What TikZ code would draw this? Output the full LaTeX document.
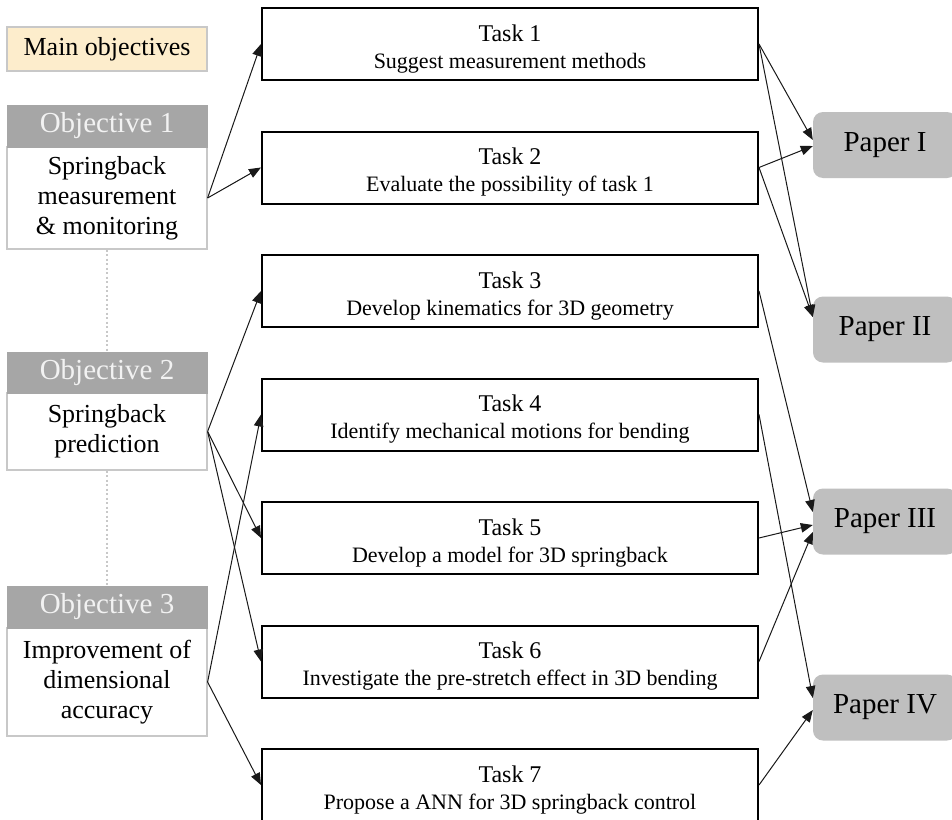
\documentclass[tikz,border=0pt]{standalone}
\usepackage{fontspec}
\setmainfont{Liberation Serif}
\usetikzlibrary{arrows.meta}

\definecolor{cream}{RGB}{253,237,204}
\definecolor{framegray}{RGB}{200,200,200}
\definecolor{headgray}{RGB}{166,166,166}
\definecolor{papergray}{RGB}{191,191,191}

\tikzset{
  mainbox/.style={draw=framegray, line width=1.2pt, fill=cream, minimum width=200pt,
    minimum height=44pt, inner sep=0pt, font=\fontsize{26}{30}\selectfont},
  objhead/.style={fill=headgray, draw=headgray, minimum width=200pt, inner sep=0pt,
    text=white!95!black, font=\fontsize{29}{32}\selectfont},
  objbody/.style={draw=framegray, line width=1.2pt, fill=white, minimum width=200pt,
    inner sep=0pt, align=center, font=\fontsize{26}{30}\selectfont},
  taskbox/.style={draw=black, line width=2pt, fill=white, minimum width=496pt,
    minimum height=72pt, inner sep=0pt},
  tasktext/.style={align=center, inner sep=0pt, font=\fontsize{22}{27}\selectfont},
  paperbox/.style={fill=papergray, rounded corners=10pt, minimum width=144pt,
    minimum height=66pt, inner sep=0pt, font=\fontsize{29}{32}\selectfont},
  link/.style={draw=black!90, line width=1pt, -{Triangle[length=12pt,width=9.5pt]}},
  guide/.style={draw=framegray, line width=2pt, dash pattern=on 2pt off 2.5pt},
}

% task title on the first line, a larger size; description below
\newcommand{\tasklines}[2]{{\fontsize{24}{27}\selectfont #1}\\#2}

\begin{document}
\begin{tikzpicture}[x=1pt, y=-1pt]
  \useasboundingbox (0,0) rectangle (952,819);
  \fill[white] (0,0) rectangle (952,819);
  \clip (0,0) rectangle (952,819);

  % objectives column
  \node[mainbox] (mo) at (107,49) {Main objectives};

  \node[objbody, minimum height=102pt] (o1b) at (107,198) {Springback\\measurement\\\& monitoring};
  \node[objhead, minimum height=42pt] (o1h) at (107,126) {Objective 1};

  \node[objbody, minimum height=77pt] (o2b) at (107,431.5) {Springback\\prediction};
  \node[objhead, minimum height=41pt] (o2h) at (107,372.5) {Objective 2};

  \node[objbody, minimum height=108pt] (o3b) at (107,682) {Improvement of\\dimensional\\accuracy};
  \node[objhead, minimum height=42pt] (o3h) at (107,607) {Objective 3};

  \draw[guide] (o1b.south) -- (o2h.north);
  \draw[guide] (o2b.south) -- (o3h.north);

  % tasks
  \node[taskbox] (t1) at (510,44) {};
  \node[taskbox] (t2) at (510,167.5) {};
  \node[taskbox] (t3) at (510,291) {};
  \node[taskbox] (t4) at (510,414.5) {};
  \node[taskbox] (t5) at (510,538) {};
  \node[taskbox] (t6) at (510,661.5) {};
  \node[taskbox] (t7) at (510,785) {};

  \node[tasktext] at ([yshift=-4.7pt]t1.center) {\tasklines{Task 1}{Suggest measurement methods}};
  \node[tasktext] at ([yshift=-4.7pt]t2.center) {\tasklines{Task 2}{Evaluate the possibility of task 1}};
  \node[tasktext] at ([yshift=-4.7pt]t3.center) {\tasklines{Task 3}{Develop kinematics for 3D geometry}};
  \node[tasktext] at ([yshift=-4.7pt]t4.center) {\tasklines{Task 4}{Identify mechanical motions for bending}};
  \node[tasktext] at ([yshift=-4.7pt]t5.center) {\tasklines{Task 5}{Develop a model for 3D springback}};
  \node[tasktext] at ([yshift=-4.7pt]t6.center) {\tasklines{Task 6}{Investigate the pre-stretch effect in 3D bending}};
  \node[tasktext] at ([yshift=-4.7pt]t7.center) {\tasklines{Task 7}{Propose a ANN for 3D springback control}};

  % papers
  \node[paperbox] (p1) at (885,145) {Paper I};
  \node[paperbox] (p2) at (885,329.5) {Paper II};
  \node[paperbox] (p3) at (885,521.5) {Paper III};
  \node[paperbox] (p4) at (885,707.5) {Paper IV};

  % objectives to tasks
  \draw[link] (o1b.east) -- (t1.west);
  \draw[link] (o1b.east) -- (t2.west);
  \draw[link] (o2b.east) -- (t3.west);
  \draw[link] (o2b.east) -- (t5.west);
  \draw[link] (o2b.east) -- (t6.west);
  \draw[link] (o3b.east) -- (t4.west);
  \draw[link] (o3b.east) -- (t7.west);

  % tasks to papers
  \draw[link] (t1.east) -- ([yshift=5pt]p1.west);
  \draw[link] (t1.east) -- ([yshift=12.5pt]p2.west);
  \draw[link] (t2.east) -- ([yshift=-1pt]p1.west);
  \draw[link] (t2.east) -- ([yshift=12.5pt]p2.west);
  \draw[link] (t3.east) -- ([yshift=9.5pt]p3.west);
  \draw[link] (t4.east) -- ([yshift=9.5pt]p4.west);
  \draw[link] (t5.east) -- ([yshift=-3.5pt]p3.west);
  \draw[link] (t6.east) -- ([yshift=-10.5pt]p3.west);
  \draw[link] (t7.east) -- ([yshift=-2.5pt]p4.west);
\end{tikzpicture}
\end{document}
